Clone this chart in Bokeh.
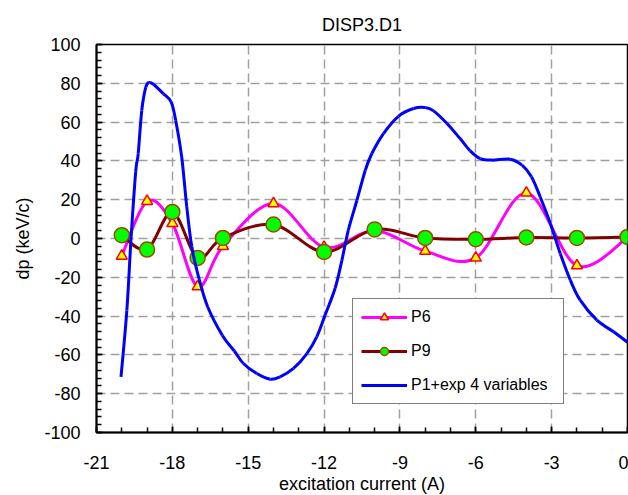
from bokeh.plotting import figure
from bokeh.models import (Range1d, FixedTicker, Legend, LegendItem, ColumnDataSource,
                          PrintfTickFormatter, Title)
from bokeh.embed import file_html
from bokeh.resources import INLINE

# ---- data ----
x_pts = [-20, -19, -18, -17, -16, -14, -12, -10, -8, -6, -4, -2, 0]
p6 = [-9, 19.2, 7.8, -24.8, -4, 18, -4.5, 4, -6.5, -10, 23.5, -14, 0.5]
p9 = [1.7, -5.7, 13.7, -10, 0.3, 7.2, -6.9, 4.7, 0.3, -0.4, 0.5, 0.3, 0.8]

blue_x = [-20.03, -19.80, -19.63, -19.45, -19.35, -19.21, -19.05, -18.92, -18.75,
          -18.36, -18.05, -17.87, -17.63, -17.43, -17.23, -16.93, -16.60, -16.02,
          -15.55, -15.19, -14.66, -14.13, -13.74, -13.21, -12.68, -12.29, -11.96,
          -11.56, -11.30, -11.04, -10.70, -10.37, -10.11, -9.65, -9.06, -8.46,
          -8.0, -7.67, -7.14, -6.62, -6.22, -5.82, -5.36, -4.64, -4.17, -3.80,
          -3.45, -3.05, -2.66, -2.26, -1.87, -1.21, -0.55, 0.0]
blue_y = [-71.3, -37, 0.8, 34.3, 43.8, 66, 78, 80.4, 79.5,
          74.7, 70.4, 61, 42, 16.3, -4.3, -21.5, -35.3, -50,
          -58, -64.4, -69.6, -72.5, -71.3, -67, -59.3, -50.7, -39.5,
          -25.5, -11.5, 4.3, 19.7, 35.2, 43.8, 54.1, 63, 67,
          67.5, 65.8, 59.3, 51.5, 45.2, 41.2, 40.4, 40.9, 37.8, 31.8,
          21.4, 7.7, -7.7, -21.5, -31.8, -42.1, -48.1, -53.5]

x_ticks = [-21, -18, -15, -12, -9, -6, -3, 0]
y_ticks = [-100, -80, -60, -40, -20, 0, 20, 40, 60, 80, 100]
x_minor = list(range(-21, 1))
y_minor = list(range(-100, 101, 4))

FONT = "Liberation Sans"


def smooth_source(xs, ys):
    """Bezier control points for a smoothed line through the points (like a spreadsheet 'smoothed line')."""
    n = len(xs)
    d = dict(x0=[], y0=[], x1=[], y1=[], cx0=[], cy0=[], cx1=[], cy1=[])
    for i in range(n - 1):
        xa, ya = (xs[i - 1], ys[i - 1]) if i > 0 else (xs[i], ys[i])
        xd, yd = (xs[i + 2], ys[i + 2]) if i + 2 < n else (xs[i + 1], ys[i + 1])
        d["x0"].append(xs[i]); d["y0"].append(ys[i])
        d["x1"].append(xs[i + 1]); d["y1"].append(ys[i + 1])
        d["cx0"].append(xs[i] + (xs[i + 1] - xa) / 6.0)
        d["cy0"].append(ys[i] + (ys[i + 1] - ya) / 6.0)
        d["cx1"].append(xs[i + 1] - (xd - xs[i]) / 6.0)
        d["cy1"].append(ys[i + 1] - (yd - ys[i]) / 6.0)
    return ColumnDataSource(d)


p = figure(width=628, height=495, x_range=Range1d(-21, 0), y_range=Range1d(-100, 100),
           output_backend="svg", toolbar_location=None,
           min_border_left=96, min_border_right=1, min_border_top=44, min_border_bottom=63,
           title="DISP3.D1")
p.background_fill_color = "white"
p.border_fill_color = "white"
p.outline_line_color = "black"
p.outline_line_width = 1.5

p.title.align = "center"
p.title.text_font = FONT
p.title.text_font_size = "18px"
p.title.text_font_style = "normal"
p.title.text_color = "black"
p.title.standoff = 20

# axes
for ax in (p.xaxis[0], p.yaxis[0]):
    ax.axis_line_color = "black"
    ax.axis_line_width = 2
    ax.major_tick_line_color = "black"
    ax.minor_tick_line_color = "black"
    ax.major_tick_line_width = 1.5
    ax.minor_tick_line_width = 1.5
    ax.major_tick_in = 6
    ax.major_tick_out = 0
    ax.minor_tick_in = 5
    ax.minor_tick_out = 0
    ax.major_label_text_font = FONT
    ax.major_label_text_font_size = "18px"
    ax.major_label_text_color = "black"
    ax.axis_label_text_font = FONT
    ax.axis_label_text_font_size = "18px"
    ax.axis_label_text_font_style = "normal"
    ax.axis_label_text_color = "black"
    ax.formatter = PrintfTickFormatter(format="%d")

p.xaxis.ticker = FixedTicker(ticks=x_ticks, minor_ticks=x_minor)
p.yaxis.ticker = FixedTicker(ticks=y_ticks, minor_ticks=y_minor)
p.yaxis.axis_label = "dp (keV/c)"
p.xaxis.major_label_standoff = 23
p.yaxis.major_label_standoff = 16
p.yaxis.axis_label_standoff = 8

# x-axis title as a title below the axis
xtitle = Title(text="excitation current (A)", align="center", text_font=FONT,
               text_font_size="18px", text_font_style="normal", text_color="black",
               standoff=0)
p.add_layout(xtitle, "below")

# grid
for g in (p.xgrid[0], p.ygrid[0]):
    g.grid_line_color = "#a0a0a0"
    g.grid_line_width = 1.5
    g.grid_line_dash = "9 5"

# series
s6 = smooth_source(x_pts, p6)
s9 = smooth_source(x_pts, p9)
sb = smooth_source(blue_x, blue_y)

r6l = p.bezier(x0="x0", y0="y0", x1="x1", y1="y1", cx0="cx0", cy0="cy0", cx1="cx1", cy1="cy1",
               source=s6, line_color="#ff00ff", line_width=3)
r6m = p.scatter(x_pts, p6, marker="triangle", size=11, fill_color="#ffff00",
                line_color="#ff0000", line_width=1.5)
r9l = p.bezier(x0="x0", y0="y0", x1="x1", y1="y1", cx0="cx0", cy0="cy0", cx1="cx1", cy1="cy1",
               source=s9, line_color="#800000", line_width=3)
r9m = p.scatter(x_pts, p9, marker="circle", size=15, fill_color="#00ff00",
                line_color="#994c00", line_width=1.5)
rbl = p.bezier(x0="x0", y0="y0", x1="x1", y1="y1", cx0="cx0", cy0="cy0", cx1="cx1", cy1="cy1",
               source=sb, line_color="#0000ff", line_width=3)

legend = Legend(items=[LegendItem(label="P6", renderers=[r6l, r6m]),
                       LegendItem(label="P9", renderers=[r9l, r9m]),
                       LegendItem(label="P1+exp 4 variables", renderers=[rbl])],
                location=(256, 28))
legend.label_text_font = FONT
legend.label_text_font_size = "16px"
legend.label_text_color = "black"
legend.label_standoff = 4
legend.glyph_width = 46
legend.glyph_height = 20
legend.label_height = 20
legend.label_width = 144
legend.spacing = 14
legend.padding = 8
legend.margin = 0
legend.border_line_color = "black"
legend.border_line_width = 1
legend.background_fill_color = "white"
legend.background_fill_alpha = 1.0
p.add_layout(legend)

open("out.html", "w").write(file_html(p, INLINE))
